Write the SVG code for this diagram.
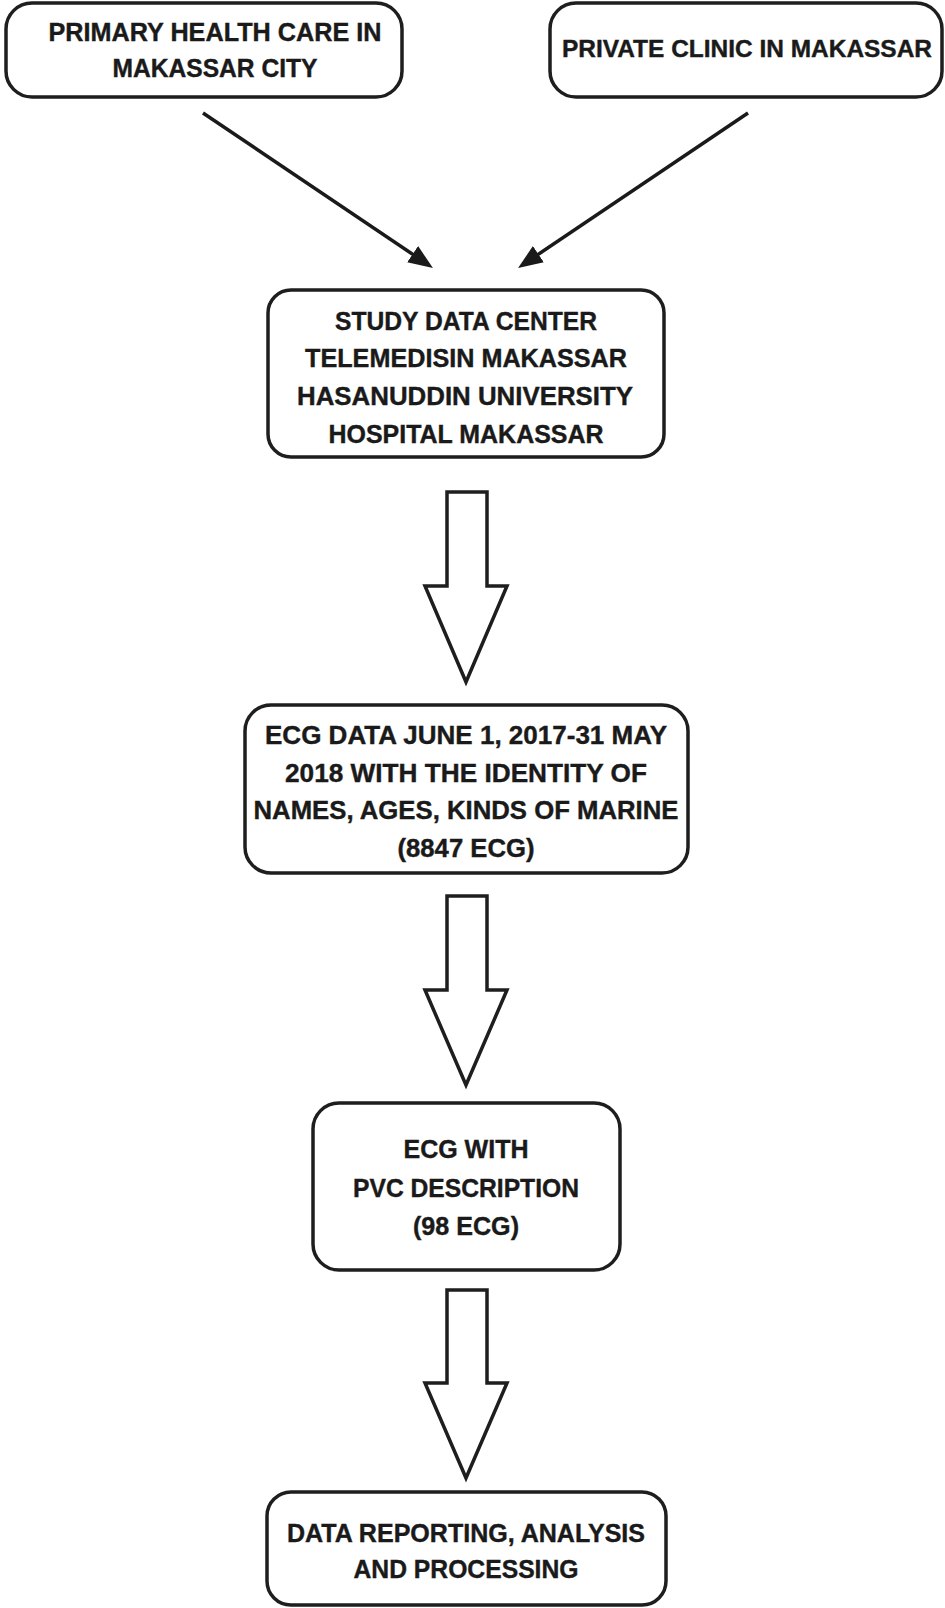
<svg xmlns="http://www.w3.org/2000/svg" width="945" height="1608" viewBox="0 0 945 1608">
<defs>
<style>
.box{fill:#fff;stroke:#1e1e1e;stroke-width:3.5}
.t{font-family:"Liberation Sans",Arial,sans-serif;font-weight:bold;font-size:26.5px;fill:#1a1a1a;stroke:#1a1a1a;stroke-width:0.4;text-anchor:middle}
.ln{stroke:#1a1a1a;stroke-width:3.5;fill:none}
.blk{fill:#fff;stroke:#1e1e1e;stroke-width:3.5;stroke-linejoin:miter}
</style>
<marker id="ah" markerWidth="7" markerHeight="5.6" refX="5.3" refY="2.8" orient="auto" markerUnits="strokeWidth">
<path d="M0,0 L7,2.8 L0,5.6 Z" fill="#1a1a1a"/>
</marker>
</defs>
<rect width="945" height="1608" fill="#fff"/>
<g id="n1">
<rect class="box" x="6" y="3" width="396" height="94" rx="26"/>
<text class="t" x="215" y="41" textLength="333" lengthAdjust="spacingAndGlyphs">PRIMARY HEALTH CARE IN</text>
<text class="t" x="215" y="77" textLength="205" lengthAdjust="spacingAndGlyphs">MAKASSAR CITY</text>
</g>
<g id="n2">
<rect class="box" x="550" y="3" width="392" height="94" rx="26"/>
<text class="t" x="747" y="57" style="font-size:24.2px" textLength="370" lengthAdjust="spacingAndGlyphs">PRIVATE CLINIC IN MAKASSAR</text>
</g>
<g id="n3">
<rect class="box" x="268" y="290" width="396" height="167" rx="23"/>
<text class="t" x="466" y="330" textLength="262" lengthAdjust="spacingAndGlyphs">STUDY DATA CENTER</text>
<text class="t" x="466" y="367" textLength="322" lengthAdjust="spacingAndGlyphs">TELEMEDISIN MAKASSAR</text>
<text class="t" x="465" y="405" textLength="336" lengthAdjust="spacingAndGlyphs">HASANUDDIN UNIVERSITY</text>
<text class="t" x="466" y="443" textLength="275" lengthAdjust="spacingAndGlyphs">HOSPITAL MAKASSAR</text>
</g>
<g id="n4">
<rect class="box" x="245" y="705" width="443" height="168" rx="26"/>
<text class="t" x="466" y="744" textLength="402" lengthAdjust="spacingAndGlyphs">ECG DATA JUNE 1, 2017-31 MAY</text>
<text class="t" x="466" y="782" textLength="362" lengthAdjust="spacingAndGlyphs">2018 WITH THE IDENTITY OF</text>
<text class="t" x="466" y="819" textLength="425" lengthAdjust="spacingAndGlyphs">NAMES, AGES, KINDS OF MARINE</text>
<text class="t" x="466" y="857" textLength="137" lengthAdjust="spacingAndGlyphs">(8847 ECG)</text>
</g>
<g id="n5">
<rect class="box" x="313" y="1103" width="307" height="167" rx="26"/>
<text class="t" x="466" y="1158" textLength="125" lengthAdjust="spacingAndGlyphs">ECG WITH</text>
<text class="t" x="466" y="1197" textLength="226" lengthAdjust="spacingAndGlyphs">PVC DESCRIPTION</text>
<text class="t" x="466" y="1235" textLength="106" lengthAdjust="spacingAndGlyphs">(98 ECG)</text>
</g>
<g id="n6">
<rect class="box" x="267" y="1492" width="399" height="113" rx="24"/>
<text class="t" x="466" y="1542" textLength="358" lengthAdjust="spacingAndGlyphs">DATA REPORTING, ANALYSIS</text>
<text class="t" x="466" y="1578" textLength="225" lengthAdjust="spacingAndGlyphs">AND PROCESSING</text>
</g>
<g id="connectors">
<line class="ln" x1="203" y1="113" x2="428" y2="264.6" marker-end="url(#ah)"/>
<line class="ln" x1="748" y1="113" x2="523" y2="264.6" marker-end="url(#ah)"/>
<polygon class="blk" points="447,492 487,492 487,586 507,586 466,682 425,586 447,586"/>
<polygon class="blk" points="447,896 487,896 487,990 507,990 466,1085 425,990 447,990"/>
<polygon class="blk" points="447,1290 487,1290 487,1383 507,1383 466,1478 425,1383 447,1383"/>
</g>
</svg>
